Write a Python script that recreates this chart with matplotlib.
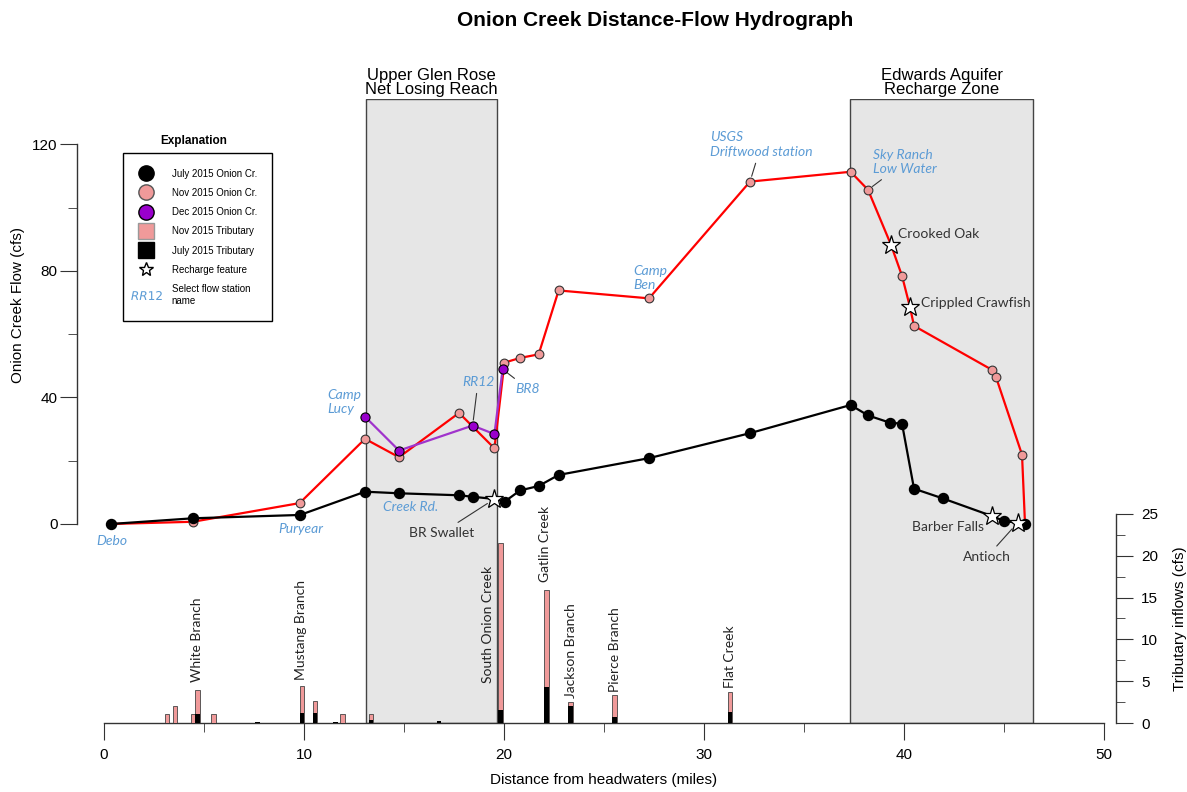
import numpy as np
import matplotlib
matplotlib.use('Agg')
import matplotlib.pyplot as plt
from matplotlib.lines import Line2D

plt.rcParams['font.family'] = ['Liberation Sans', 'DejaVu Sans']

# Onion Creek flow (cfs) vs distance from headwaters (miles)
july_x = [0.35, 4.45, 9.8, 13.05, 14.75, 17.75, 18.43, 19.52, 20.03, 20.8, 21.73, 22.73,
          27.25, 32.3, 37.33, 38.2, 39.3, 39.9, 40.5, 41.93, 44.4, 45.0, 45.68, 46.05]
july_y = [0.0, 1.8, 2.85, 10.2, 9.7, 9.07, 8.6, 7.9, 7.05, 10.6, 12.0, 15.5,
          20.8, 28.7, 37.6, 34.3, 32.0, 31.7, 11.15, 8.1, 2.5, 0.95, 0.4, 0.0]

nov_x = [0.35, 4.45, 9.78, 13.05, 14.75, 17.75, 19.52, 20.02, 20.82, 21.73, 22.73, 27.25,
         32.3, 37.33, 38.2, 39.35, 39.9, 40.3, 40.5, 44.4, 44.6, 45.9, 46.05]
nov_y = [0.0, 0.7, 6.6, 26.9, 21.1, 35.1, 23.9, 51.0, 52.5, 53.6, 73.8, 71.3,
         108.2, 111.3, 105.6, 88.2, 78.4, 68.5, 62.6, 48.7, 46.4, 21.9, 0.0]

dec_x = [13.05, 14.75, 18.43, 19.52, 19.93]
dec_y = [33.9, 23.2, 31.1, 28.4, 48.9]

# recharge features (they sit on the flow lines)
recharge_x = [19.52, 39.35, 40.3, 44.4, 45.68]
recharge_y = [7.9, 88.2, 68.5, 2.5, 0.4]

# tributary inflows (cfs)
trib_x = [3.16, 3.55, 4.44, 4.68, 5.47, 7.68, 9.89, 10.55, 11.58, 11.93, 13.34, 16.76,
          19.82, 22.13, 23.33, 25.53, 31.3]
trib_nov = [1.1, 2.0, 1.1, 3.9, 1.1, 0.0, 4.4, 2.6, 0.0, 1.08, 1.08, 0.0,
            21.5, 15.9, 2.5, 3.4, 3.7]
trib_july = [0.0, 0.0, 0.0, 1.1, 0.0, 0.15, 1.2, 1.2, 0.15, 0.0, 0.4, 0.3,
             1.6, 4.26, 2.0, 0.7, 1.27]

trib_names = ['White Branch', 'Mustang Branch', 'South Onion Creek', 'Gatlin Creek',
              'Jackson Branch', 'Pierce Branch', 'Flat Creek']
trib_label_x = [4.65, 9.85, 19.2, 22.05, 23.33, 25.55, 31.3]
trib_label_y = [4.9, 5.1, 4.8, 16.8, 3.0, 3.7, 4.2]

# geologic zones
zones = [(13.1, 19.65, 'Upper Glen Rose\nNet Losing Reach'),
         (37.3, 46.45, 'Edwards Aquifer\nRecharge Zone')]

# station names (blue) : text, text pos, point (None = no leader)
stations = [
    ('Debo', (0.4, -5.4), None, 'center'),
    ('Puryear', (9.85, -1.7), None, 'center'),
    ('Creek Rd.', (13.97, 5.5), None, 'left'),
    ('Camp\nLucy', (11.15, 38.5), None, 'left'),
    ('RR12', (18.7, 44.9), (18.43, 31.1), 'center'),
    ('BR8', (21.2, 42.7), (19.93, 48.9), 'center'),
    ('Camp\nBen', (26.45, 77.7), None, 'left'),
    ('USGS\nDriftwood station', (30.3, 119.9), (32.3, 108.2), 'left'),
    ('Sky Ranch\nLow Water', (38.45, 114.4), (38.2, 105.6), 'left'),
]
# recharge feature names (dark)
features = [
    ('BR Swallet', (16.9, -2.75), (19.52, 7.9), 'center'),
    ('Crooked Oak', (39.7, 91.6), None, 'left'),
    ('Crippled Crawfish', (40.83, 69.9), None, 'left'),
    ('Barber Falls', (40.38, -0.85), None, 'left'),
    ('Antioch', (44.15, -10.4), (45.68, 0.4), 'center'),
]

pink = '#F09A9A'
purple = '#9900CC'
blue = '#5B9BD5'
ann_font = ['Lato', 'DejaVu Sans']

fig = plt.figure(figsize=(11.87, 7.92), dpi=100)
ax = fig.add_axes([0.0649, 0.0871, 0.8753, 0.7879])
ax2 = ax.twinx()

ax.set_xlim(-1.35, 50.6)
ax.set_ylim(-62.9, 134.3)
ax2.set_ylim(0, 74.6)

for x0, x1, name in zones:
    ax.axvspan(x0, x1, facecolor='#E6E6E6', edgecolor='#444444', lw=1.0, zorder=0)
    ax.text((x0 + x1) / 2, 1.003, name, transform=ax.get_xaxis_transform(),
            ha='center', va='bottom', fontsize=12, linespacing=0.95)

# flow lines; circles everywhere except where a recharge star sits
stars = set(zip(recharge_x, recharge_y))
nov_marks = [i for i, p in enumerate(zip(nov_x, nov_y)) if p not in stars]
july_marks = [i for i, p in enumerate(zip(july_x, july_y)) if p not in stars]
ax.plot(nov_x, nov_y, color='red', lw=1.6, marker='o', ms=6.3, mfc=pink, mec='#333333',
        mew=0.8, markevery=nov_marks, zorder=3)
ax.plot(dec_x, dec_y, color='#A033CC', lw=1.6, marker='o', ms=6.6, mfc=purple, mec='black',
        mew=0.8, zorder=4)
ax.plot(july_x, july_y, color='black', lw=1.6, marker='o', ms=7.2, mfc='black', mec='black',
        markevery=july_marks, zorder=5)
ax.plot(recharge_x, recharge_y, ls='none', marker='*', ms=14, mfc='white', mec='black',
        mew=0.9, zorder=6)

for text, pos, pt, ha in stations:
    if pt is None:
        ax.text(pos[0], pos[1], text, color=blue, fontsize=10, style='italic',
                family=ann_font, ha=ha, va='center', linespacing=1.25)
    else:
        ax.annotate(text, xy=pt, xytext=pos, color=blue, fontsize=10, style='italic',
                    family=ann_font, ha=ha, va='center', linespacing=1.25,
                    arrowprops=dict(arrowstyle='-', color='#333333', lw=0.8, shrinkB=4))

for text, pos, pt, ha in features:
    if pt is None:
        ax.text(pos[0], pos[1], text, color='#333333', fontsize=10, family=ann_font,
                ha=ha, va='center')
    else:
        ax.annotate(text, xy=pt, xytext=pos, color='#333333', fontsize=10, family=ann_font,
                    ha=ha, va='center',
                    arrowprops=dict(arrowstyle='-', color='#333333', lw=0.8, shrinkB=6))

# tributary bars
ax2.bar(trib_x, trib_nov, width=0.22, color=pink, edgecolor='#444444', lw=0.6, zorder=2)
ax2.bar(trib_x, trib_july, width=0.22, color='black', lw=0, zorder=3)
for name, lx, ly in zip(trib_names, trib_label_x, trib_label_y):
    ax2.text(lx, ly, name, rotation=90, ha='center', va='bottom', fontsize=10,
             family=ann_font, color='#222222')

# axes styling
ax.spines['top'].set_visible(False)
ax.spines['right'].set_visible(False)
ax.spines['left'].set_bounds(0, 120)
ax.spines['bottom'].set_bounds(0, 50)
for s in ax2.spines.values():
    s.set_visible(False)
ax2.spines['right'].set_visible(True)
ax2.spines['right'].set_bounds(0, 25)
for s in [ax.spines['left'], ax.spines['bottom'], ax2.spines['right']]:
    s.set_color('#333333')
    s.set_linewidth(1.0)

ax.set_xticks(np.arange(0, 51, 10))
ax.set_xticks(np.arange(5, 50, 10), minor=True)
ax.set_yticks([0, 40, 80, 120])
ax.set_yticks([20, 60, 100], minor=True)
ax2.set_yticks(np.arange(0, 26, 5))
ax2.set_yticks(np.arange(2.5, 25, 5), minor=True)
ax.tick_params(axis='x', which='major', length=12, pad=6, labelsize=11, color='#333333')
ax.tick_params(axis='x', which='minor', length=6.5, color='#333333')
ax.tick_params(axis='y', which='major', length=12, pad=2, labelsize=11, color='#333333')
ax.tick_params(axis='y', which='minor', length=6.5, color='#333333')
ax2.tick_params(axis='y', which='major', length=12, pad=6, labelsize=11, color='#333333')
ax2.tick_params(axis='y', which='minor', length=6.5, color='#333333')

ax.set_xlabel('Distance from headwaters (miles)', fontsize=11)
ax.xaxis.set_label_coords(0.507, -0.08)
ax.set_ylabel('Onion Creek Flow (cfs)', fontsize=11)
ax.yaxis.set_label_coords(-0.05, 0.67)
ax2.set_ylabel('Tributary inflows (cfs)', fontsize=11)
ax2.yaxis.set_label_coords(1.055, 0.167)

fig.text(655 / 1187, 1 - 20 / 792, 'Onion Creek Distance-Flow Hydrograph',
         ha='center', va='center', fontsize=15, fontweight='bold')

# explanation box
handles = [
    Line2D([], [], ls='none', marker='o', ms=11, mfc='black', mec='black'),
    Line2D([], [], ls='none', marker='o', ms=11, mfc=pink, mec='#555555'),
    Line2D([], [], ls='none', marker='o', ms=11, mfc=purple, mec='black'),
    Line2D([], [], ls='none', marker='s', ms=11, mfc=pink, mec='#999999'),
    Line2D([], [], ls='none', marker='s', ms=11, mfc='black', mec='black'),
    Line2D([], [], ls='none', marker='*', ms=10, mfc='white', mec='black'),
    Line2D([], [], ls='none', marker=r'$\mathit{RR12}$', ms=22, mfc=blue, mec=blue, mew=0),
]
labels = ['July 2015 Onion Cr.', 'Nov 2015 Onion Cr.', 'Dec 2015 Onion Cr.',
          'Nov 2015 Tributary', 'July 2015 Tributary', 'Recharge feature',
          'Select flow station\nname']
leg = fig.legend(handles, labels, loc='upper left', bbox_to_anchor=(123 / 1187, 1 - 153 / 792),
                 bbox_transform=fig.transFigure, borderaxespad=0, fancybox=False,
                 edgecolor='black', framealpha=1, fontsize=7, labelspacing=0.95,
                 handlelength=1.6, handletextpad=1.8, borderpad=1.6)
leg.get_frame().set_linewidth(1.0)
fig.text(194 / 1187, 1 - 141 / 792, 'Explanation', ha='center', va='center',
         fontsize=8.5, fontweight='bold')

fig.savefig('out.png', dpi=100)
